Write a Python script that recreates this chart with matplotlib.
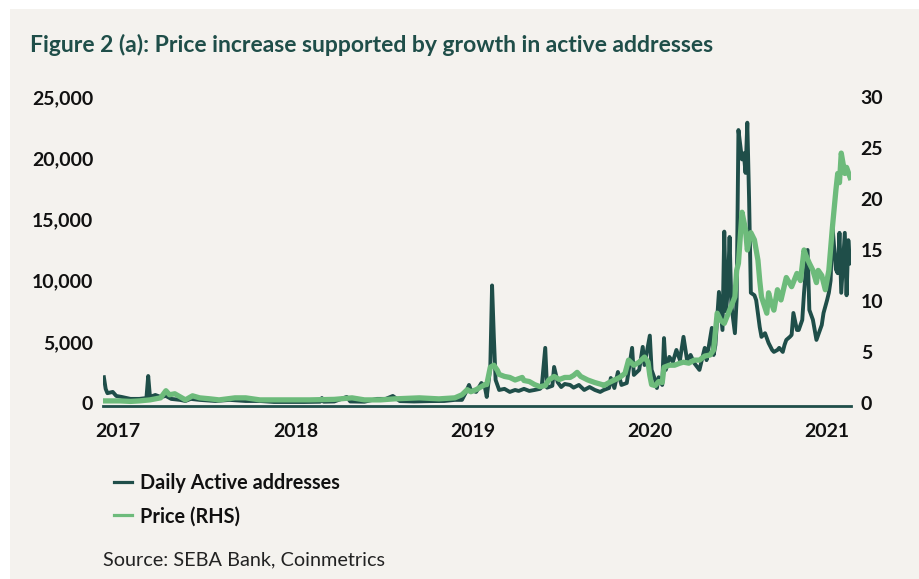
import matplotlib
matplotlib.use("Agg")
import matplotlib.pyplot as plt
from matplotlib.lines import Line2D
from matplotlib.patches import Rectangle

# Daily active addresses (LHS), sampled from the chart; x in decimal years
addr_t = [2016.92, 2016.93, 2016.94, 2016.97, 2016.99, 2017.02, 2017.07, 2017.12,
          2017.16, 2017.17, 2017.18, 2017.21, 2017.24, 2017.27, 2017.30, 2017.35,
          2017.38, 2017.41, 2017.46, 2017.55, 2017.63, 2017.72, 2017.80, 2017.88,
          2017.97, 2018.05, 2018.14, 2018.15, 2018.16, 2018.22, 2018.29, 2018.31,
          2018.39, 2018.46, 2018.51, 2018.55, 2018.59, 2018.67, 2018.76, 2018.84,
          2018.90, 2018.94, 2018.96, 2018.98, 2018.99, 2019.02, 2019.05, 2019.07,
          2019.08, 2019.10, 2019.11, 2019.12, 2019.13, 2019.14, 2019.15, 2019.18,
          2019.21, 2019.24, 2019.26, 2019.29, 2019.32, 2019.35, 2019.38, 2019.39,
          2019.41, 2019.42, 2019.45, 2019.46, 2019.48, 2019.50, 2019.52, 2019.55,
          2019.57, 2019.60, 2019.63, 2019.66, 2019.69, 2019.72, 2019.74, 2019.77,
          2019.78, 2019.80, 2019.82, 2019.84, 2019.87, 2019.90, 2019.91, 2019.94,
          2019.96, 2019.97, 2020.00, 2020.01, 2020.03, 2020.04, 2020.05, 2020.07,
          2020.08, 2020.09, 2020.11, 2020.13, 2020.15, 2020.17, 2020.19, 2020.21,
          2020.23, 2020.25, 2020.28, 2020.31, 2020.32, 2020.35, 2020.36, 2020.37,
          2020.39, 2020.40, 2020.41, 2020.42, 2020.43, 2020.44, 2020.45, 2020.46,
          2020.48, 2020.49, 2020.50, 2020.52, 2020.53, 2020.54, 2020.55, 2020.56,
          2020.57, 2020.59, 2020.60, 2020.62, 2020.63, 2020.65, 2020.67, 2020.69,
          2020.70, 2020.72, 2020.73, 2020.75, 2020.76, 2020.77, 2020.79, 2020.80,
          2020.81, 2020.83, 2020.84, 2020.86, 2020.87, 2020.89, 2020.90, 2020.92,
          2020.93, 2020.94, 2020.97, 2020.98, 2021.00, 2021.01, 2021.02, 2021.03,
          2021.05, 2021.06, 2021.07, 2021.08, 2021.10, 2021.11, 2021.12, 2021.13]
addr_v = [2100, 1150, 800, 900, 570, 490, 330, 330,
          400, 2200, 490, 650, 490, 570, 330, 250,
          160, 330, 250, 160, 250, 160, 160, 80,
          80, 80, 100, 400, 100, 120, 490, 120,
          100, 330, 330, 570, 150, 120, 150, 160,
          250, 250, 800, 1470, 1060, 900, 1630, 1250,
          490, 2940, 9600, 5400, 1880, 1470, 1060, 1150,
          900, 1060, 980, 1150, 980, 1060, 1150, 1300,
          4500, 1250, 1400, 2940, 1700, 1300, 1550, 1470,
          1250, 1470, 1060, 1300, 1060, 900, 1060, 1220,
          2040, 1220, 2530, 1470, 1630, 4500, 2290, 2700,
          4580, 3100, 5500, 2700, 1880, 1220, 2100, 1470,
          5300, 2700, 3760, 3350, 4330, 3500, 5400, 3500,
          3920, 3270, 2700, 4500, 3500, 6130, 3920, 4740,
          9070, 7500, 5960, 14000, 7500, 9200, 13560, 8000,
          5700, 8500, 22300, 19900, 20400, 18800, 22900, 16700,
          9000, 8800, 8400, 6200, 5400, 5700, 4900, 4330,
          4170, 4330, 4500, 4170, 4740, 5150, 5400, 5560,
          7350, 5960, 5960, 6780, 9000, 12500, 7600, 6800,
          5960, 5150, 6370, 7350, 8400, 9000, 10000, 14500,
          10900, 10600, 13900, 9000, 13900, 8800, 13300, 11400]

# Price (RHS)
price_t = [2016.92, 2016.97, 2017.01, 2017.07, 2017.12, 2017.18, 2017.21, 2017.24,
           2017.27, 2017.29, 2017.32, 2017.35, 2017.38, 2017.42, 2017.46, 2017.52,
           2017.57, 2017.66, 2017.72, 2017.80, 2017.91, 2018.00, 2018.08, 2018.22,
           2018.32, 2018.39, 2018.48, 2018.56, 2018.70, 2018.81, 2018.90, 2018.94,
           2018.97, 2018.99, 2019.02, 2019.05, 2019.07, 2019.08, 2019.10, 2019.12,
           2019.14, 2019.15, 2019.18, 2019.21, 2019.24, 2019.28, 2019.29, 2019.32,
           2019.35, 2019.38, 2019.41, 2019.43, 2019.46, 2019.49, 2019.52, 2019.55,
           2019.57, 2019.59, 2019.61, 2019.65, 2019.69, 2019.73, 2019.74, 2019.77,
           2019.80, 2019.83, 2019.86, 2019.88, 2019.91, 2019.94, 2019.97, 2019.99,
           2020.00, 2020.01, 2020.03, 2020.05, 2020.07, 2020.08, 2020.11, 2020.14,
           2020.17, 2020.19, 2020.22, 2020.25, 2020.28, 2020.31, 2020.34, 2020.36,
           2020.38, 2020.40, 2020.42, 2020.45, 2020.48, 2020.49, 2020.50, 2020.52,
           2020.54, 2020.55, 2020.57, 2020.59, 2020.61, 2020.62, 2020.63, 2020.66,
           2020.67, 2020.68, 2020.70, 2020.72, 2020.74, 2020.77, 2020.80, 2020.83,
           2020.85, 2020.87, 2020.88, 2020.90, 2020.92, 2020.94, 2020.95, 2020.97,
           2020.99, 2021.01, 2021.03, 2021.05, 2021.06, 2021.07, 2021.08, 2021.10,
           2021.11, 2021.13]
price_v = [0.2, 0.2, 0.2, 0.15, 0.2, 0.3, 0.4, 0.5,
           1.2, 0.8, 0.9, 0.6, 0.3, 0.7, 0.5, 0.4,
           0.3, 0.5, 0.5, 0.3, 0.3, 0.3, 0.3, 0.35,
           0.5, 0.3, 0.3, 0.4, 0.5, 0.4, 0.5, 0.8,
           1.3, 1.1, 1.3, 1.6, 1.8, 1.8, 3.5, 3.7,
           3.2, 2.8, 2.6, 2.5, 2.25, 2.5, 2.2, 2.1,
           1.8, 1.6, 1.7, 2.25, 2.6, 2.3, 2.5, 2.5,
           2.7, 3.0, 2.6, 2.25, 2.0, 1.8, 1.7, 2.0,
           2.25, 2.5, 2.9, 4.2, 3.7, 4.0, 4.5, 4.0,
           2.7, 1.8, 1.7, 2.1, 2.0, 3.5, 3.7, 3.7,
           3.9, 4.0, 3.9, 4.2, 4.2, 4.6, 4.7, 5.2,
           8.8, 8.1, 7.8, 9.1, 10.4, 13.0, 13.7, 18.7,
           17.0, 15.0, 16.7, 16.0, 14.0, 12.0, 10.4, 8.8,
           10.8, 10.1, 9.1, 11.1, 10.1, 12.3, 11.4, 12.7,
           12.0, 15.0, 14.5, 13.7, 13.0, 11.8, 13.0, 12.5,
           11.1, 13.0, 17.2, 20.9, 22.5, 21.6, 24.5, 22.5,
           23.1, 22.1]

years = [2017, 2018, 2019, 2020, 2021]
left_ticks = [0, 5000, 10000, 15000, 20000, 25000]
right_ticks = [0, 5, 10, 15, 20, 25, 30]

BG = "#f4f2ee"
DARK = "#1f4e49"
LIGHT = "#6dbb7b"

plt.rcParams["font.family"] = "Lato"

fig = plt.figure(figsize=(9.19, 5.79), dpi=100)
fig.patch.set_facecolor("white")
fig.patches.append(Rectangle((10 / 919, 0), 1, 1 - 9 / 579, transform=fig.transFigure,
                             facecolor=BG, edgecolor="none", zorder=-10))

ax = fig.add_axes([103 / 919, (579 - 406) / 579, 748 / 919, 309 / 579])
ax.set_facecolor("none")
ax.plot(addr_t, addr_v, color=DARK, lw=2.8, solid_joinstyle="round")
ax.set_xlim(2016.915, 2021.135)
ax.set_ylim(-250, 25000)
ax.set_yticks(left_ticks)
ax.set_yticklabels([f"{v:,}" for v in left_ticks])
ax.set_xticks(years)
ax.set_xticklabels([str(y) for y in years])

ax2 = ax.twinx()
ax2.plot(price_t, price_v, color=LIGHT, lw=3.8, solid_joinstyle="round")
ax2.set_ylim(-0.3, 30)
ax2.set_yticks(right_ticks)

for a in (ax, ax2):
    for s in a.spines.values():
        s.set_visible(False)
    a.tick_params(length=0, labelsize=14, labelcolor="#111111")
    for lab in a.get_xticklabels() + a.get_yticklabels():
        lab.set_fontweight("bold")
ax.spines["bottom"].set_visible(True)
ax.spines["bottom"].set_color(DARK)
ax.spines["bottom"].set_linewidth(2)
ax.tick_params(axis="y", pad=7)
ax.tick_params(axis="x", pad=12)
ax2.tick_params(axis="y", pad=7)

fig.text(30 / 919, 1 - 45 / 579, "Figure 2 (a): Price increase supported by growth in active addresses",
         color=DARK, fontsize=16.5, fontweight="bold", va="center", ha="left")

handles = [Line2D([], [], color=DARK, lw=2.3), Line2D([], [], color=LIGHT, lw=2.3)]
leg = fig.legend(handles, ["Daily Active addresses", "Price (RHS)"],
                 loc="upper left", bbox_to_anchor=(96 / 919, 1 - 455 / 579),
                 frameon=False, handlelength=0.9, handletextpad=0.4,
                 labelspacing=0.68, prop={"family": "Lato", "weight": "bold", "size": 14.3})
for t in leg.get_texts():
    t.set_color("#111111")

fig.text(103 / 919, 1 - 560 / 579, "Source: SEBA Bank, Coinmetrics",
         color="#222222", fontsize=14.3, va="center", ha="left")

fig.savefig("out.png", dpi=100, facecolor=fig.get_facecolor())
